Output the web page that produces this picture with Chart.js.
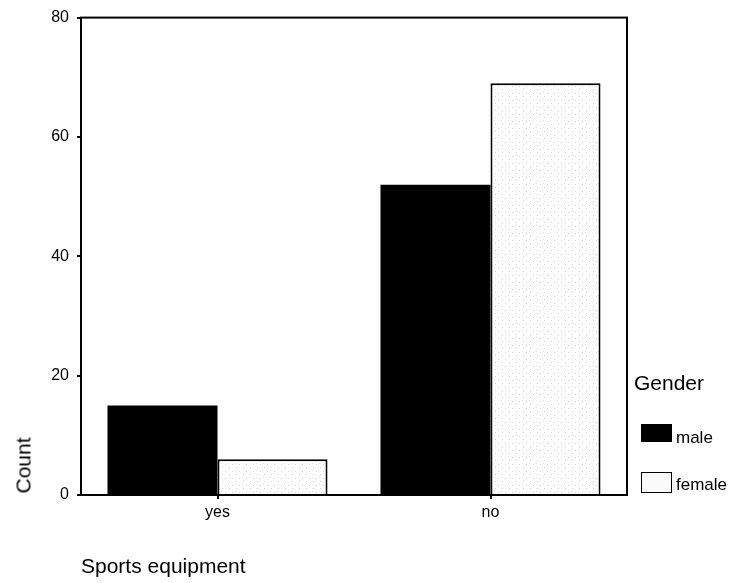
<!DOCTYPE html>
<html>
<head>
<meta charset="utf-8">
<script src="https://cdn.jsdelivr.net/npm/chart.js@4"></script>
<style>
  html, body { margin: 0; padding: 0; background: #fff; }
  #wrap { position: relative; width: 732px; height: 583px; overflow: hidden; }
  canvas { position: absolute; left: 0; top: 0; }
  .txt { position: absolute; font-family: "Liberation Sans", Arial, sans-serif; color: #000; white-space: nowrap; }
  .box { position: absolute; box-sizing: border-box; }
</style>
</head>
<body>
<div id="wrap">
  <canvas id="c" width="732" height="583"></canvas>
  <div class="txt" id="ytitle" style="font-size:21px;line-height:21px;width:70px;text-align:center;left:-12px;top:455px;transform:rotate(-90deg);">Count</div>
  <div class="txt" style="font-size:21px;line-height:21px;left:81px;top:555px;">Sports equipment</div>
  <div class="txt" style="font-size:21px;line-height:21px;left:634px;top:372px;">Gender</div>
  <div class="box" style="left:641px;top:424px;width:31px;height:18px;background:#000;"></div>
  <div class="txt" style="font-size:17px;line-height:17px;left:676px;top:429px;">male</div>
  <div class="box" id="fbox" style="left:641px;top:472px;width:31px;height:21px;border:1.5px solid #000;background:#fafafa;"></div>
  <div class="txt" style="font-size:17px;line-height:17px;left:676px;top:476px;">female</div>
</div>
<script>
const categories = ["yes", "no"];
const seriesNames = ["male", "female"];
const maleCounts = [15, 52];
const femaleCounts = [6, 69];
const yTicks = [0, 20, 40, 60, 80];

// light speckled fill for the female series
function makePattern() {
  const p = document.createElement('canvas');
  p.width = 7; p.height = 7;
  const g = p.getContext('2d');
  g.fillStyle = '#ffffff';
  g.fillRect(0, 0, 7, 7);
  g.fillStyle = '#d2d2d2';
  g.fillRect(1, 2, 1, 1);
  g.fillRect(5, 5, 1, 1);
  g.fillStyle = '#e6e6e6';
  g.fillRect(4, 1, 1, 1);
  return g.createPattern(p, 'repeat');
}
const femaleFill = makePattern();

const frame = {
  id: 'frame',
  afterDatasetsDraw(chart) {
    const a = chart.chartArea, ctx = chart.ctx;
    ctx.save();
    ctx.strokeStyle = '#000';
    ctx.lineWidth = 2;
    ctx.strokeRect(a.left, a.top, a.right - a.left, a.bottom - a.top);
    ctx.restore();
  }
};

new Chart(document.getElementById('c'), {
  type: 'bar',
  data: {
    labels: categories,
    datasets: [
      { label: seriesNames[0], data: maleCounts, backgroundColor: '#000', borderColor: '#000', borderWidth: 0 },
      { label: seriesNames[1], data: femaleCounts, backgroundColor: femaleFill, borderColor: '#000', borderWidth: 2 }
    ]
  },
  options: {
    responsive: false,
    devicePixelRatio: 1,
    animation: false,
    layout: { padding: { left: 0, top: 15, right: 105, bottom: 0 } },
    datasets: { bar: { categoryPercentage: 0.806, barPercentage: 1.0 } },
    plugins: { legend: { display: false }, tooltip: { enabled: false } },
    scales: {
      x: {
        grid: { display: true, drawOnChartArea: false, offset: false, tickLength: 4, color: '#000', lineWidth: 2 },
        border: { display: false },
        ticks: { color: '#000', padding: 4, font: { family: 'Liberation Sans', size: 16 } },
        afterFit(s) { s.height = 88; }
      },
      y: {
        min: 0, max: 80,
        afterBuildTicks(s) { s.ticks = yTicks.map(v => ({ value: v })); },
        grid: { display: true, drawOnChartArea: false, tickLength: 4, color: '#000', lineWidth: 2 },
        border: { display: false },
        ticks: { color: '#000', padding: 8, font: { family: 'Liberation Sans', size: 16 } },
        afterFit(s) { s.width = 81; }
      }
    }
  },
  plugins: [frame]
});
</script>
</body>
</html>
